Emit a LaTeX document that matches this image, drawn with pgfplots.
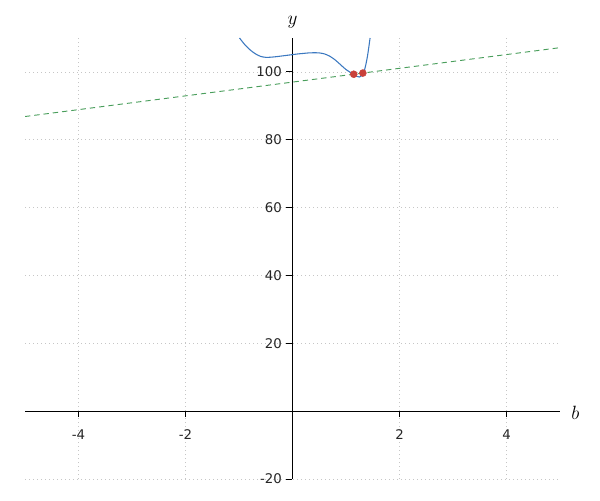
\documentclass[border=0pt]{standalone}
\usepackage{fontspec}
\setmainfont{DejaVu Sans}
\usepackage{pgfplots}
\pgfplotsset{compat=1.18}
\definecolor{cblue}{HTML}{3B78C0}
\definecolor{cgreen}{HTML}{4A9E5C}
\definecolor{cred}{HTML}{C9413A}
\begin{document}
\begin{tikzpicture}
\begin{axis}[
  at={(0,0)}, anchor=south west,
  scale only axis,
  width=401.25pt, height=330.75pt,
  axis lines=middle,
  axis line style={black, line width=0.75pt, -},
  xmin=-5, xmax=5, ymin=-20, ymax=110,
  xtick={-4,-2,2,4},
  ytick={-20,20,40,60,80,100},
  tick align=outside,
  major tick length=4.5pt,
  tick style={black, line width=0.75pt},
  grid=major,
  grid style={gray!45, dash pattern=on 0.75pt off 2.25pt, line width=0.6pt},
  /pgf/number format/assume math mode=true,
  tick label style={font=\fontsize{10}{12}\selectfont, text=black!85},
  xticklabel style={yshift=-6pt},
  xlabel={$b$}, ylabel={$y$},
  every axis x label/.style={at={(rel axis cs:1,0.1538)}, anchor=west, xshift=5pt, yshift=-1pt, font=\fontsize{15}{18}\selectfont},
  every axis y label/.style={at={(rel axis cs:0.5,1)}, anchor=south, yshift=4pt, font=\fontsize{15}{18}\selectfont},
  clip=true,
]
\addplot[cgreen, dashed, dash pattern=on 4pt off 3pt, line width=0.7pt] coordinates {(-5,86.85) (5,107.15)};
\addplot[cblue, line width=0.8pt, smooth] coordinates {
(-0.99,110.0) (-0.9,108.2) (-0.8,106.6) (-0.7,105.4) (-0.6,104.6) (-0.5,104.3)
(-0.4,104.35) (-0.3,104.5) (-0.2,104.7) (-0.1,104.9) (0,105.1) (0.1,105.3)
(0.2,105.45) (0.3,105.6) (0.4,105.65) (0.5,105.6) (0.6,105.3) (0.7,104.6)
(0.8,103.5) (0.9,102.1) (1.0,100.7) (1.1,99.7) (1.145,99.3) (1.2,98.7)
(1.25,98.5) (1.3,99.1) (1.35,100.8) (1.4,104.5) (1.45,110.0)};
\addplot[only marks, mark=*, mark size=2.6pt, cred, mark options={draw=cred, fill=cred}] coordinates {(1.145,99.32) (1.315,99.67)};
\end{axis}
\path[use as bounding box] (-18.75pt,-15.75pt) rectangle (431.25pt,359.25pt);
\end{tikzpicture}
\end{document}
